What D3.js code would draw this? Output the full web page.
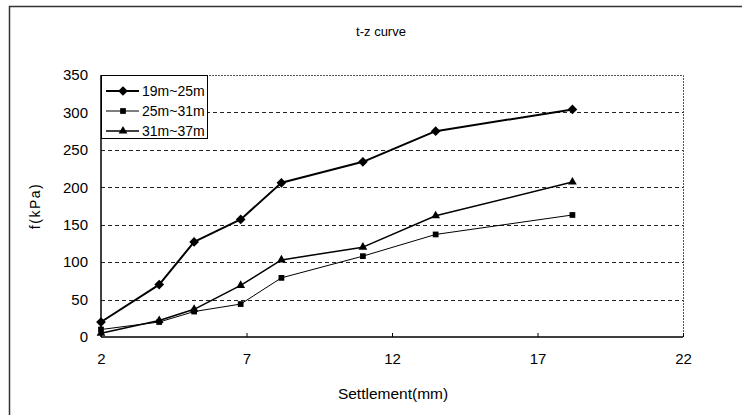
<!DOCTYPE html>
<html>
<head>
<meta charset="utf-8">
<script src="https://cdn.jsdelivr.net/npm/d3@7"></script>
<style>
  body { margin: 0; background: #fff; }
  svg { display: block; font-family: "Liberation Sans", Arial, sans-serif; }
</style>
</head>
<body>
<div id="chart"></div>
<script>
// settlement (mm) and side friction (kPa)
var settlement = [2, 4, 5.2, 6.8, 8.2, 11, 13.5, 18.2];
var f19to25 = [20, 70, 127, 157, 206, 234, 275, 304];
var f25to31 = [10, 20, 34, 44, 79, 108, 137, 163];
var f31to37 = [5, 22, 37, 69, 103, 120, 162, 207];
var seriesNames = ["19m~25m", "25m~31m", "31m~37m"];
var xTicks = [2, 7, 12, 17, 22];
var yTicks = [0, 50, 100, 150, 200, 250, 300, 350];

var width = 742, height = 419;
var margin = ({top: 75, right: 59, bottom: 82, left: 101});

var svg = d3.select("#chart")
  .append("svg")
  .attr("width", width)
  .attr("height", height);

// outer frame (left and top edges only show in the scan)
svg.append("path")
  .attr("d", `M9.5,415V6.5H742`)
  .attr("fill", "none")
  .attr("stroke", "#333")
  .attr("stroke-width", 1.5);

var x = d3.scaleLinear()
  .domain([2, 22])
  .range([margin.left, width - margin.right]);
var y = d3.scaleLinear()
  .domain([0, 350])
  .range([height - margin.bottom, margin.top]);

// dashed grid
svg.append("g")
  .selectAll("line")
  .data(yTicks.slice(1, -1))
  .join("line")
    .attr("x1", x(2))
    .attr("x2", x(22))
    .attr("y1", d => Math.round(y(d)) + 0.5)
    .attr("y2", d => Math.round(y(d)) + 0.5)
    .attr("stroke", "#222")
    .attr("stroke-width", 1)
    .attr("stroke-dasharray", "4,3");

// top and right frame of the plot area
svg.append("path")
  .attr("d", `M${x(2)},${y(350) + 0.5}H${x(22) + 0.5}V${y(0)}`)
  .attr("fill", "none")
  .attr("stroke", "#555")
  .attr("stroke-width", 1)
  .attr("stroke-dasharray", "2,1");

var xAxis = g => g
  .attr("transform", `translate(0,${y(0)})`)
  .call(d3.axisBottom(x).tickValues(xTicks).tickSize(-4).tickPadding(16).tickFormat(d3.format("d")))
  .call(g => g.select(".domain").attr("stroke", "#000").attr("stroke-width", 1.5).attr("d", `M${x(2)},0H${x(22)}`))
  .call(g => g.selectAll(".tick line").attr("stroke", "#000"))
  .call(g => g.selectAll(".tick text").attr("font-size", 15).attr("fill", "#000"));

var yAxis = g => g
  .attr("transform", `translate(${x(2)},0)`)
  .call(d3.axisLeft(y).tickValues(yTicks).tickSize(0).tickPadding(13))
  .call(g => g.select(".domain").attr("stroke", "#000").attr("stroke-width", 1.5).attr("d", `M0,${y(0)}V${y(350)}`))
  .call(g => g.selectAll(".tick text").attr("font-size", 15).attr("fill", "#000"));

svg.append("g").call(xAxis);
svg.append("g").call(yAxis);

// titles
svg.append("text")
  .attr("x", 381)
  .attr("y", 36)
  .attr("text-anchor", "middle")
  .attr("font-size", 13)
  .text("t-z curve");

svg.append("text")
  .attr("x", (x(2) + x(22)) / 2 + 1)
  .attr("y", 399)
  .attr("text-anchor", "middle")
  .attr("font-size", 15.5)
  .text("Settlement(mm)");

svg.append("text")
  .attr("transform", `translate(40,${(y(0) + y(350)) / 2}) rotate(-90)`)
  .attr("text-anchor", "middle")
  .attr("font-size", 14)
  .attr("letter-spacing", 1.5)
  .text("f(kPa)");

var symbols = [d3.symbolDiamond2, d3.symbolSquare2, d3.symbolTriangle2];
var symbolSizes = [60, 42, 55];
var lineWidths = [2, 1, 1.5];
var seriesValues = [f19to25, f25to31, f31to37];

var line = d3.line()
  .x(d => x(d[0]))
  .y(d => y(d[1]));

seriesValues.forEach((vals, s) => {
  var pts = settlement.map((d, i) => [d, vals[i]]);
  svg.append("path")
    .datum(pts)
    .attr("fill", "none")
    .attr("stroke", "#000")
    .attr("stroke-width", lineWidths[s])
    .attr("stroke-linejoin", "round")
    .attr("d", line);
  svg.append("g")
    .selectAll("path")
    .data(pts)
    .join("path")
      .attr("transform", d => `translate(${x(d[0])},${y(d[1])})`)
      .attr("d", d3.symbol().type(symbols[s]).size(symbolSizes[s]))
      .attr("fill", "#000");
});

// legend
var legend = svg.append("g");
legend.append("rect")
  .attr("x", x(2) + 0.5)
  .attr("y", y(350) + 0.5)
  .attr("width", 106)
  .attr("height", 63)
  .attr("fill", "#fff")
  .attr("stroke", "#000")
  .attr("stroke-width", 1);

var items = legend.selectAll("g.item")
  .data(seriesNames)
  .join("g")
    .attr("class", "item")
    .attr("transform", (d, i) => `translate(${x(2)},${y(350) + 16 + i * 20})`);

items.append("line")
  .attr("x1", 5)
  .attr("x2", 38)
  .attr("stroke", "#000")
  .attr("stroke-width", (d, i) => lineWidths[i]);

items.append("path")
  .attr("transform", "translate(22,0)")
  .attr("d", (d, i) => d3.symbol().type(symbols[i]).size(symbolSizes[i])())
  .attr("fill", "#000");

items.append("text")
  .attr("x", 41)
  .attr("dy", "0.35em")
  .attr("font-size", 14)
  .attr("font-family", "'Liberation Sans Narrow', 'Arial Narrow', sans-serif")
  .text(d => d);
</script>
</body>
</html>
